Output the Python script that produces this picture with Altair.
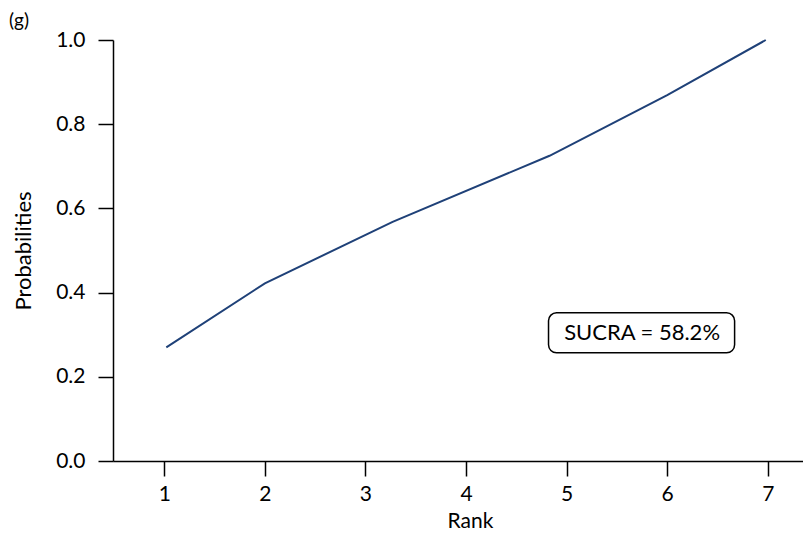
import altair as alt
import pandas as pd

# Data (vertices of the cumulative ranking curve)
rank = [1.02, 2.0, 3.27, 4.83, 6.0, 6.98]
prob = [0.27, 0.422, 0.568, 0.725, 0.869, 1.0]

x_ticks = [1, 2, 3, 4, 5, 6, 7]
y_ticks = [0.0, 0.2, 0.4, 0.6, 0.8, 1.0]

label_text = ["SUCRA = 58.2%"]
label_x = [5.75]
label_y = [0.304]
box_x1 = [4.82]
box_x2 = [6.67]
box_y1 = [0.257]
box_y2 = [0.352]

panel_tag = ["(g)"]

FONT = "Lato"

df = pd.DataFrame({"rank": rank, "prob": prob})
lab = pd.DataFrame({"t": label_text, "x": label_x, "y": label_y,
                    "x1": box_x1, "x2": box_x2, "y1": box_y1, "y2": box_y2})
tag = pd.DataFrame({"t": panel_tag})

xscale = alt.Scale(domain=[0.49, 7.35], nice=False, zero=False)
yscale = alt.Scale(domain=[0, 1], nice=False)

axis_style = dict(grid=False, tickSize=15, tickWidth=1.5, tickColor="black",
                  domainColor="black", domainWidth=1.5,
                  labelColor="black", titleColor="black",
                  labelFont=FONT, titleFont=FONT,
                  labelFontSize=21, titleFontWeight="normal")

line = alt.Chart(df).mark_line(color="#1f4178", strokeWidth=2).encode(
    x=alt.X("rank:Q", scale=xscale,
            axis=alt.Axis(title="Rank", values=x_ticks, format="d",
                          labelPadding=7, titlePadding=6, titleFontSize=21,
                          titleX=357, **axis_style)),
    y=alt.Y("prob:Q", scale=yscale,
            axis=alt.Axis(title="Probabilities", values=y_ticks, format=".1f",
                          labelPadding=13, titlePadding=20, titleFontSize=22,
                          **axis_style)),
)

box = alt.Chart(lab).mark_rect(fill="white", stroke="black", strokeWidth=1.5,
                               cornerRadius=8).encode(
    x="x1:Q", x2="x2:Q", y="y1:Q", y2="y2:Q")

text = alt.Chart(lab).mark_text(font=FONT, fontSize=22, color="black",
                                align="center", baseline="middle").encode(
    x="x:Q", y="y:Q", text="t:N")

tagtext = alt.Chart(tag).mark_text(font=FONT, fontSize=19, color="black",
                                   align="left", baseline="middle").encode(
    x=alt.value(-104), y=alt.value(-19), text="t:N")

chart = alt.layer(line, box, text, tagtext).properties(
    width=690, height=421,
    autosize=alt.AutoSizeParams(type="none"),
    padding={"left": 105, "top": 32, "right": 0, "bottom": 79},
).configure_view(stroke=None)

chart.save("out.html", embed_options={"renderer": "svg", "actions": False})
